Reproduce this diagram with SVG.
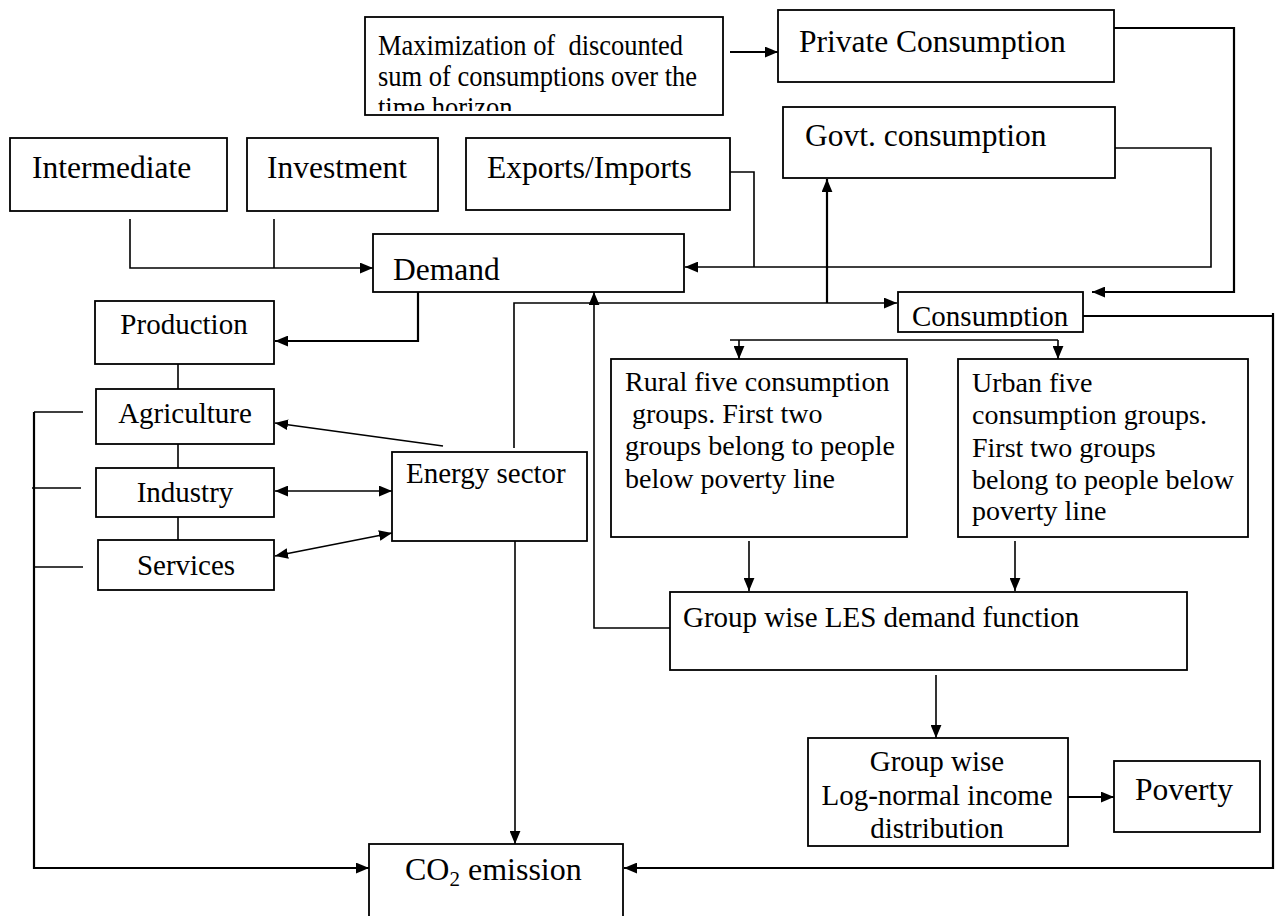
<svg xmlns="http://www.w3.org/2000/svg" width="1277" height="916" viewBox="0 0 1277 916">
<style>
  .box { fill: #fff; stroke: #000; stroke-width: 1.8; }
  .t { font-family: "Liberation Serif", "Times New Roman", serif; fill: #000; }
  .f32 { font-size: 31.5px; }
  .f29 { font-size: 29px; }
  .f28 { font-size: 28px; }
  .fmax { font-size: 30px; }
  .c { text-anchor: middle; }
  .ln { fill: none; stroke: #000; stroke-width: 1.6; }
  .th { stroke-width: 2.2; }
  .arr { marker-end: url(#ah); }
  .arr2 { marker-start: url(#ahs); marker-end: url(#ah); }
</style>
<defs>
  <marker id="ah" viewBox="0 0 12 10" refX="12" refY="5" markerWidth="13" markerHeight="11" orient="auto" markerUnits="userSpaceOnUse">
    <path d="M0,0 L12,5 L0,10 z" fill="#000"/>
  </marker>
  <marker id="ahs" viewBox="0 0 12 10" refX="12" refY="5" markerWidth="13" markerHeight="11" orient="auto-start-reverse" markerUnits="userSpaceOnUse">
    <path d="M0,0 L12,5 L0,10 z" fill="#000"/>
  </marker>
  <clipPath id="clipMax"><rect x="366" y="18" width="356" height="93"/></clipPath>
  <clipPath id="clipCons"><rect x="899" y="293" width="183" height="34"/></clipPath>
</defs>
<rect width="1277" height="916" fill="#fff"/>

<g id="connectors">
  <path class="ln th arr" d="M730,52 H778"/>
  <path class="ln th arr" d="M1114,28 H1234 V292 H1092"/>
  <path class="ln arr" d="M1115,148 H1211 V267 H685"/>
  <path class="ln" d="M730,172 H754 V267"/>
  <path class="ln arr" d="M130,219 V268 H373"/>
  <path class="ln" d="M274,219 V268"/>
  <path class="ln th arr" d="M418,292 V341 H275"/>
  <path class="ln" d="M178,364 V389 M178,444 V468 M178,517 V540"/>
  <path class="ln arr" d="M443,446 L275,423"/>
  <path class="ln arr2" d="M275,491 H392"/>
  <path class="ln arr2" d="M275,556 L392,533"/>
  <path class="ln arr" d="M514,448 V303 H897"/>
  <path class="ln th arr" d="M827,303 V179"/>
  <path class="ln" d="M730,340 H1058"/>
  <path class="ln arr" d="M739,340 V359"/>
  <path class="ln arr" d="M1058,340 V359"/>
  <path class="ln arr" d="M749,541 V591"/>
  <path class="ln arr" d="M1015,541 V591"/>
  <path class="ln arr" d="M670,628 H594 V292"/>
  <path class="ln arr" d="M936,675 V738"/>
  <path class="ln th arr" d="M1068,797 H1114"/>
  <path class="ln arr" d="M515,541 V844"/>
  <path class="ln th arr" d="M34,412 V868 H369"/>
  <path class="ln" d="M34,412 H83 M32,488 H81 M34,567 H83"/>
  <path class="ln th arr" d="M1083,316 H1273 M1273,313 V868 H624"/>
</g>

<g id="maximization">
  <rect class="box" x="365" y="17" width="358" height="98"/>
  <g clip-path="url(#clipMax)">
    <text class="t fmax" transform="translate(378,55) scale(0.883,1)" x="0" y="0" xml:space="preserve">Maximization of  discounted</text>
    <text class="t fmax" transform="translate(378,86) scale(0.883,1)" x="0" y="0">sum of consumptions over the</text>
    <text class="t fmax" transform="translate(378,117) scale(0.883,1)" x="0" y="0">time horizon</text>
  </g>
</g>
<g id="private-consumption">
  <rect class="box" x="778" y="10" width="336" height="72"/>
  <text class="t f32" x="799" y="52">Private Consumption</text>
</g>
<g id="govt-consumption">
  <rect class="box" x="783" y="107" width="332" height="71"/>
  <text class="t f32" x="805" y="146">Govt. consumption</text>
</g>
<g id="intermediate">
  <rect class="box" x="10" y="138" width="217" height="73"/>
  <text class="t f32" x="32" y="178">Intermediate</text>
</g>
<g id="investment">
  <rect class="box" x="247" y="138" width="191" height="73"/>
  <text class="t f32" x="267" y="178">Investment</text>
</g>
<g id="exports-imports">
  <rect class="box" x="466" y="138" width="264" height="72"/>
  <text class="t f32" x="487" y="178">Exports/Imports</text>
</g>
<g id="demand">
  <rect class="box" x="373" y="234" width="311" height="58"/>
  <text class="t f32" x="393" y="280">Demand</text>
</g>
<g id="consumption">
  <rect class="box" x="898" y="292" width="185" height="40"/>
  <g clip-path="url(#clipCons)">
    <text class="t f29" x="912" y="326">Consumption</text>
  </g>
</g>
<g id="production">
  <rect class="box" x="95" y="301" width="179" height="63"/>
  <text class="t f29 c" x="184" y="334">Production</text>
</g>
<g id="agriculture">
  <rect class="box" x="96" y="389" width="178" height="55"/>
  <text class="t f29 c" x="185" y="423">Agriculture</text>
</g>
<g id="industry">
  <rect class="box" x="96" y="468" width="178" height="49"/>
  <text class="t f29 c" x="185" y="502">Industry</text>
</g>
<g id="services">
  <rect class="box" x="98" y="540" width="176" height="50"/>
  <text class="t f29 c" x="186" y="575">Services</text>
</g>
<g id="energy-sector">
  <rect class="box" x="392" y="452" width="195" height="89"/>
  <text class="t f29" x="406" y="483">Energy sector</text>
</g>
<g id="rural">
  <rect class="box" x="611" y="359" width="296" height="178"/>
  <text class="t f28" x="625" y="391">Rural five consumption</text>
  <text class="t f28" x="625" y="423" xml:space="preserve"> groups. First two</text>
  <text class="t f28" x="625" y="455">groups belong to people</text>
  <text class="t f28" x="625" y="488">below poverty line</text>
</g>
<g id="urban">
  <rect class="box" x="958" y="359" width="290" height="178"/>
  <text class="t f28" x="972" y="392">Urban five</text>
  <text class="t f28" x="972" y="424">consumption groups.</text>
  <text class="t f28" x="972" y="457">First two groups</text>
  <text class="t f28" x="972" y="489">belong to people below</text>
  <text class="t f28" x="972" y="520">poverty line</text>
</g>
<g id="les-demand">
  <rect class="box" x="670" y="592" width="517" height="78"/>
  <text class="t f29" x="683" y="627">Group wise LES demand function</text>
</g>
<g id="lognormal">
  <rect class="box" x="808" y="738" width="260" height="108"/>
  <text class="t f29 c" x="937" y="771">Group wise</text>
  <text class="t f29 c" x="937" y="805">Log-normal income</text>
  <text class="t f29 c" x="937" y="838">distribution</text>
</g>
<g id="poverty">
  <rect class="box" x="1114" y="761" width="146" height="71"/>
  <text class="t f32" x="1135" y="800">Poverty</text>
</g>
<g id="co2-emission">
  <rect class="box" x="369" y="844" width="254" height="80"/>
  <text class="t" x="405" y="880" font-size="32">CO<tspan font-size="21" dy="6">2</tspan><tspan dy="-6"> emission</tspan></text>
</g>
</svg>
